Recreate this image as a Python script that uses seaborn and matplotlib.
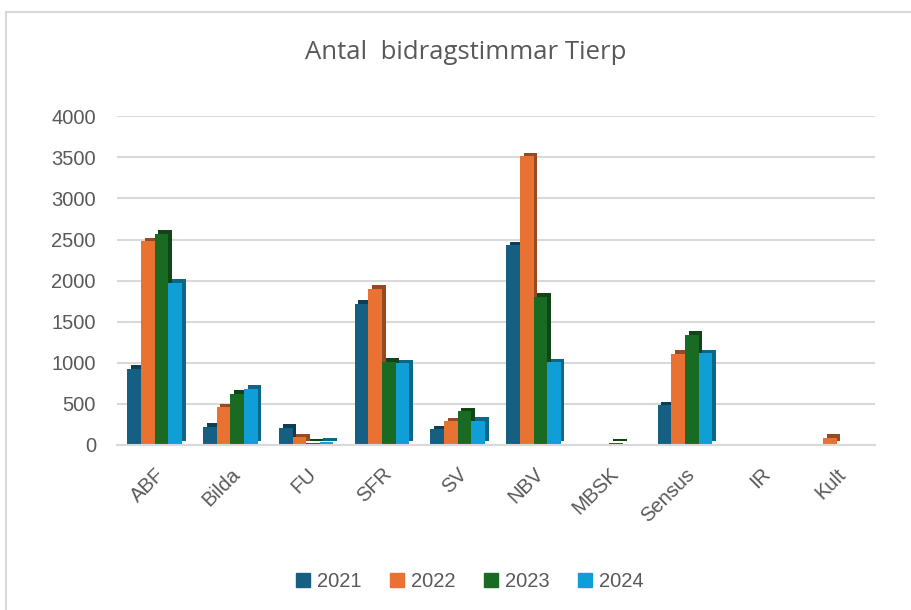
import pandas as pd
import seaborn as sns
import matplotlib.pyplot as plt
import matplotlib.patheffects as pe
from matplotlib.patches import Rectangle

# data
categories = ['ABF', 'Bilda', 'FU', 'SFR', 'SV', 'NBV', 'MBSK', 'Sensus', 'IR', 'Kult']
years = ['2021', '2022', '2023', '2024']
v2021 = [930, 220, 210, 1720, 190, 2430, 0, 485, 0, 10]
v2022 = [2480, 460, 95, 1900, 290, 3510, 5, 1110, 2, 90]
v2023 = [2570, 625, 30, 1010, 410, 1800, 25, 1340, 2, 5]
v2024 = [1975, 680, 40, 995, 295, 1005, 0, 1115, 0, 0]
colors = ['#156082', '#E97132', '#196B24', '#0F9ED5']

df = pd.DataFrame({'kat': categories * 4,
                   'year': sum([[y] * len(categories) for y in years], []),
                   'val': v2021 + v2022 + v2023 + v2024})

sns.set_style('white')
plt.rcParams['font.family'] = ['Liberation Sans', 'DejaVu Sans']
txt = '#595959'

fig = plt.figure(figsize=(9.12, 6.1), dpi=100)
ax = fig.add_axes([0.128, 0.2705, 0.831, 0.539])

sns.barplot(data=df, x='kat', y='val', hue='year', palette=colors,
            width=0.72, saturation=1, ax=ax, legend=False, errorbar=None,
            linewidth=0)

# fake the 3d depth with a darker offset copy of each bar
for p in ax.patches:
    p.set_path_effects([pe.SimplePatchShadow(offset=(2.6, 2.6), rho=0.65, alpha=1),
                        pe.Normal()])

ax.set_ylim(0, 4000)
ax.set_xlim(-0.5, 9.5)
ax.set_yticks(range(0, 4001, 500))
ax.yaxis.grid(True, color='#d9d9d9', lw=1.5)
ax.set_axisbelow(True)
for s in ['top', 'right', 'left']:
    ax.spines[s].set_visible(False)
ax.spines['bottom'].set_color('#d9d9d9')
ax.spines['bottom'].set_linewidth(1.5)
ax.set_xlabel('')
ax.set_ylabel('')
ax.tick_params(axis='y', labelsize=14.5, colors=txt, length=0, pad=15)
ax.tick_params(axis='x', labelsize=14.5, colors=txt, length=0, pad=14)
plt.setp(ax.get_xticklabels(), rotation=45, ha='right', rotation_mode='anchor')

fig.text(0.511, 0.914, 'Antal  bidragstimmar Tierp', ha='center', va='center',
         fontsize=18.5, color=txt, family=['Open Sans', 'Liberation Sans'])

handles = [Rectangle((0, 0), 1, 1, color=c) for c in colors]
fig.legend(handles, years, loc='center', bbox_to_anchor=(0.515, 0.047), ncol=4,
           frameon=False, fontsize=14.5, labelcolor=txt, handlelength=0.7,
           handleheight=0.7, handletextpad=0.35, columnspacing=1.4)

# chart frame
fig.patches.append(Rectangle((0.007, -0.05), 1.2, 1.03, transform=fig.transFigure,
                             fill=False, edgecolor='#d9d9d9', lw=1.5))

fig.savefig('out.png', dpi=100)
